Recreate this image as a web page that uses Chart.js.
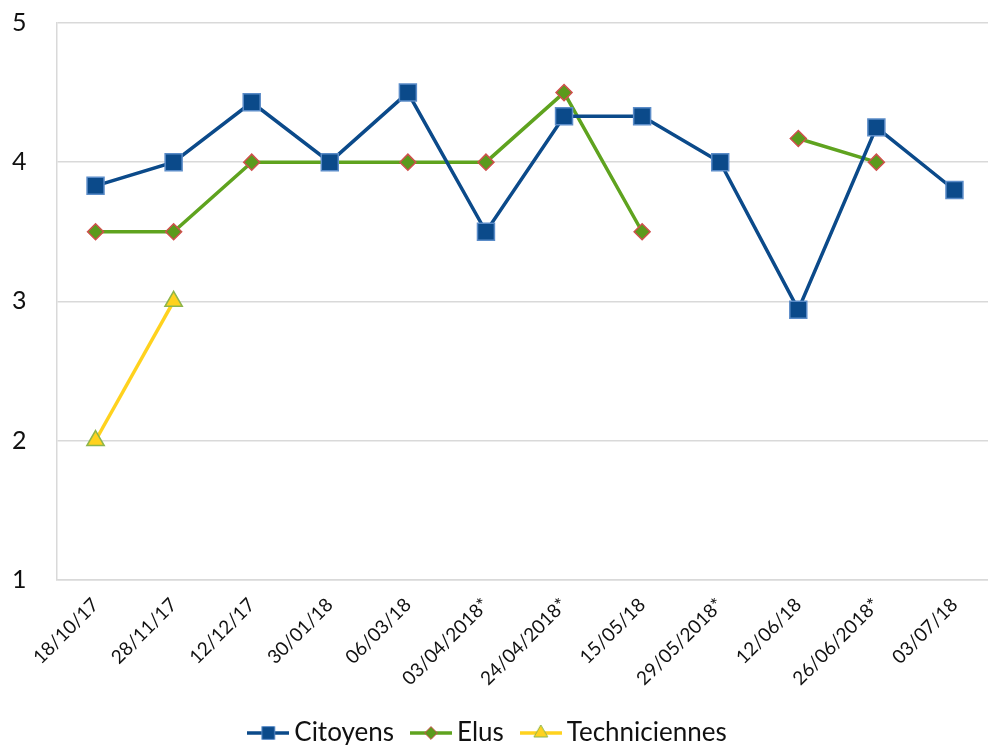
<!DOCTYPE html>
<html>
<head>
<meta charset="utf-8">
<script src="https://cdn.jsdelivr.net/npm/chart.js@4/dist/chart.umd.min.js"></script>
<style>
    html, body { margin: 0; padding: 0; background: #fff; overflow: hidden; }
    .wrap { width: 988px; height: 745px; overflow: hidden; position: relative; }
    .box { width: 1007px; height: 767px; position: absolute; left: 0; top: -22px; }
</style>
</head>
<body>
<div class="wrap"><div class="box"><canvas id="chart"></canvas></div></div>
<script>
const dates = ['18/10/17', '28/11/17', '12/12/17', '30/01/18', '06/03/18', '03/04/2018*',
    '24/04/2018*', '15/05/18', '29/05/2018*', '12/06/18', '26/06/2018*', '03/07/18'];
const citoyens = [3.83, 4.0, 4.43, 4.0, 4.5, 3.5, 4.33, 4.33, 4.0, 2.94, 4.25, 3.8];
const elus = [3.5, 3.5, 4.0, 4.0, 4.0, 4.0, 4.5, 3.5, null, 4.17, 4.0, null];
const techniciennes = [2, 3, null, null, null, null, null, null, null, null, null, null];
const yTicks = [1, 2, 3, 4, 5];

const FONT = "Lato, 'Open Sans', sans-serif";

const styles = {
    citoyens: {line: '#0b4a8a', fill: '#0b4a8a', border: '#5b8cc8', point: 'rect', radius: 12},
    elus: {line: '#5fa31f', fill: '#5b9a1c', border: '#d0504d', point: 'rectRot', radius: 8},
    tech: {line: '#ffd21e', fill: '#ffd21e', border: '#8db54b', point: 'triangle', radius: 10},
};

// legend swatch: short line with the marker in the middle
function legendIcon(s, scale) {
    const c = document.createElement('canvas');
    c.width = 42;
    c.height = 22;
    const ctx = c.getContext('2d');
    ctx.strokeStyle = s.line;
    ctx.lineWidth = 3.5;
    ctx.beginPath();
    ctx.moveTo(0, 11);
    ctx.lineTo(42, 11);
    ctx.stroke();
    ctx.fillStyle = s.fill;
    ctx.strokeStyle = s.border;
    ctx.lineWidth = 1;
    Chart.helpers.drawPoint(ctx, {pointStyle: s.point, radius: s.radius * scale, rotation: 0, borderWidth: 1}, 21, 11);
    return c;
}

function makeSet(label, data, s) {
    return {
        label: label,
        data: data,
        borderColor: s.line,
        backgroundColor: s.fill,
        borderWidth: 3.5,
        pointStyle: s.point,
        pointRadius: s.radius,
        pointHoverRadius: s.radius,
        pointBackgroundColor: s.fill,
        pointBorderColor: s.border,
        pointBorderWidth: 1.5,
        spanGaps: false,
        tension: 0,
    };
}

const icons = [legendIcon(styles.citoyens, 0.75), legendIcon(styles.elus, 0.8), legendIcon(styles.tech, 0.8)];

new Chart(document.getElementById('chart'), {
    type: 'line',
    data: {
        labels: dates,
        datasets: [
            makeSet('Citoyens', citoyens, styles.citoyens),
            makeSet('Elus', elus, styles.elus),
            makeSet('Techniciennes', techniciennes, styles.tech),
        ]
    },
    options: {
        responsive: true,
        maintainAspectRatio: false,
        animation: false,
        layout: {padding: {left: -18, right: 7, top: 0, bottom: -11}},
        plugins: {
            legend: {
                position: 'bottom',
                labels: {
                    usePointStyle: true,
                    pointStyleWidth: 26,
                    boxHeight: 22,
                    padding: 24,
                    color: '#111',
                    font: {size: 26, family: FONT},
                    generateLabels: function(chart) {
                        return chart.data.datasets.map((ds, i) => ({
                            text: ds.label,
                            fillStyle: ds.backgroundColor,
                            strokeStyle: ds.borderColor,
                            pointStyle: icons[i],
                            fontColor: '#111',
                            datasetIndex: i,
                            hidden: false,
                        }));
                    }
                }
            },
            tooltip: {enabled: false}
        },
        scales: {
            x: {
                offset: true,
                grid: {display: false},
                border: {display: true, color: '#d9d9d9', width: 1.5},
                ticks: {
                    maxRotation: 45,
                    minRotation: 45,
                    autoSkip: false,
                    color: '#111',
                    padding: 6,
                    font: {size: 19, family: FONT}
                }
            },
            y: {
                min: 1,
                max: 5,
                afterBuildTicks: function(axis) {
                    axis.ticks = yTicks.map(v => ({value: v}));
                },
                grid: {color: '#d9d9d9', lineWidth: 1.5, drawTicks: false},
                border: {display: true, color: '#d9d9d9', width: 1.5},
                ticks: {
                    color: '#111',
                    padding: 30,
                    font: {size: 25, family: FONT}
                }
            }
        }
    }
});
</script>
</body>
</html>
